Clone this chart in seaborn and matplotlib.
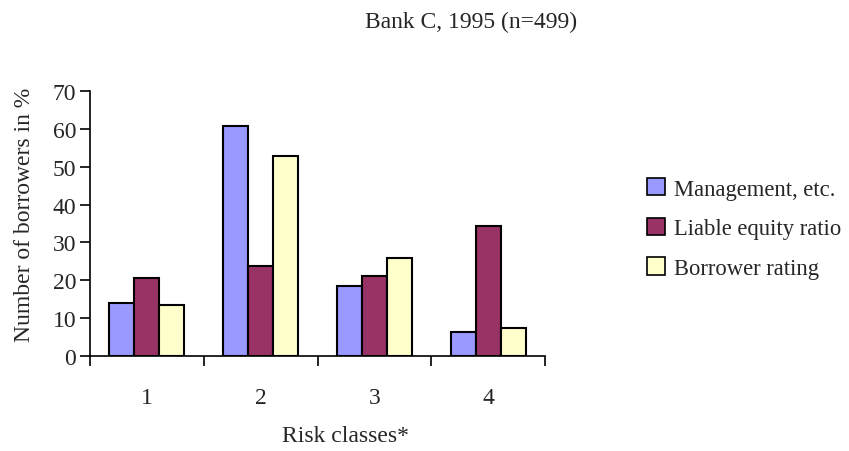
import matplotlib
matplotlib.use("Agg")
import matplotlib.pyplot as plt
import seaborn as sns
import pandas as pd
from matplotlib.patches import Patch
from matplotlib.ticker import FixedLocator

categories = ["1", "2", "3", "4"]
series_names = ["Management, etc.", "Liable equity ratio", "Borrower rating"]
management = [14.0, 60.7, 18.4, 6.3]
liable_equity = [20.6, 23.7, 21.2, 34.3]
borrower_rating = [13.6, 52.7, 25.8, 7.4]
colors = ["#9999FF", "#993366", "#FFFFCC"]

rows = []
for name, vals in zip(series_names, [management, liable_equity, borrower_rating]):
    for c, v in zip(categories, vals):
        rows.append({"cat": c, "series": name, "value": v})
df = pd.DataFrame(rows)

sns.set_theme(style="white")
plt.rcParams["font.family"] = ["Liberation Serif", "DejaVu Serif"]

FS = 17

fig = plt.figure(figsize=(8.49, 4.52), dpi=100)
ax = fig.add_axes([90/849, 1-357.3/452, 455/849, (357.3-91.7)/452])

sns.barplot(data=df, x="cat", y="value", hue="series", palette=colors,
            order=categories, hue_order=series_names, width=0.66,
            edgecolor="black", linewidth=1.5, ax=ax, legend=False, saturation=1)

ax.set_ylim(0, 70)
ax.set_xlim(-0.5, 3.5)
ax.set_yticks(range(0, 71, 10))
ax.tick_params(axis="y", direction="out", length=7, width=1.2, color="black",
               labelsize=FS, left=True, pad=3)
ax.tick_params(axis="x", which="major", length=0, labelsize=FS, pad=22)
ax.xaxis.set_minor_locator(FixedLocator([-0.5, 0.5, 1.5, 2.5, 3.5]))
ax.tick_params(axis="x", which="minor", direction="out", length=7, width=1.2,
               color="black", bottom=True)
for s in ["top", "right"]:
    ax.spines[s].set_visible(False)
for s in ["left", "bottom"]:
    ax.spines[s].set_color("black")
    ax.spines[s].set_linewidth(1.2)
ax.set_xlabel("")
ax.set_ylabel("Number of borrowers in %", fontsize=FS)
ax.yaxis.set_label_coords(-0.12, 0.536)

fig.text(471/849, 1-22/452, "Bank C, 1995 (n=499)", ha="center", va="center", fontsize=FS)
fig.text(346/849, 1-437/452, "Risk classes*", ha="center", va="center", fontsize=FS)

handles = [Patch(facecolor=c, edgecolor="black", linewidth=1.2) for c in colors]
fig.legend(handles, series_names, loc="upper left", bbox_to_anchor=(638/849, 1-170/452),
           frameon=False, fontsize=16.3, handlelength=0.8, handleheight=0.8,
           handletextpad=0.4, labelspacing=0.8, borderaxespad=0)

fig.savefig("out.png", dpi=100)
